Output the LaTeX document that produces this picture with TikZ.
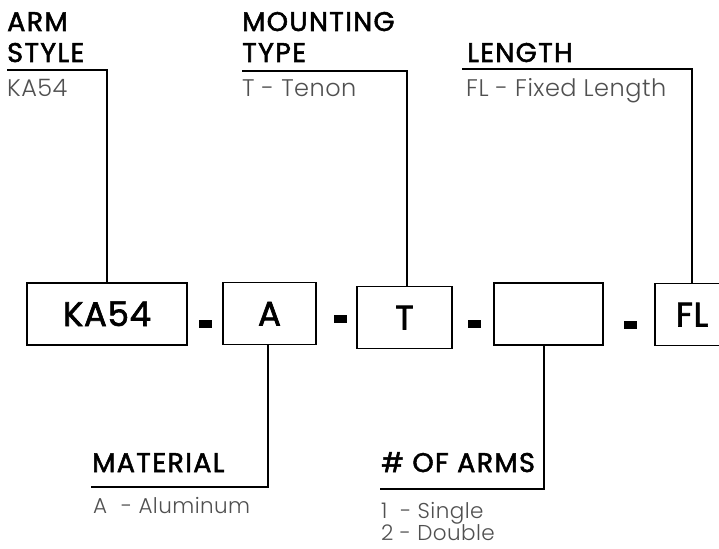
\documentclass[tikz,border=0pt]{standalone}
\usepackage{fontspec}
\setmainfont{Poppins}
\newfontfamily\headf{Poppins}[LetterSpace=5,FakeBold=2]
\newfontfamily\boxf{Poppins}[LetterSpace=2,FakeBold=2]
\IfFontExistsTF{Poppins Light}{\newfontfamily\valf{Poppins Light}[LetterSpace=2]}{\newfontfamily\valf{Poppins}[LetterSpace=2]}
\definecolor{txtgray}{HTML}{505050}
\begin{document}
\begin{tikzpicture}[x=1pt,y=-1pt,
  head/.style={anchor=base west,inner sep=0pt,font=\headf\fontsize{27}{27}\selectfont,text=black},
  val/.style={anchor=base west,inner sep=0pt,font=\valf\fontsize{24}{24}\selectfont,text=txtgray},
  valsm/.style={val,font=\valf\fontsize{21.5}{21.5}\selectfont},
  codebox/.style={draw=black,line width=1.8pt,inner sep=0pt,minimum height=62pt,text depth=0pt,text height=24pt,font=\boxf\fontsize{34}{34}\selectfont},
  sep/.style={fill=black,draw=none,inner sep=0pt,minimum width=13pt,minimum height=8pt},
  conn/.style={line width=1.6pt}]
\clip (0,0) rectangle (719,548);
\fill[white] (0,0) rectangle (719,548);
% code boxes
\node[codebox,minimum width=160pt] (ka) at (107,314) {KA54\hspace{18pt}};
\node[codebox,minimum width=93pt] (al) at (269.5,313.5) {A};
\node[codebox,minimum width=95pt] (tn) at (404.5,317.5) {T};
\node[codebox,minimum width=109pt] (na) at (548.5,314) {};
\node[codebox,minimum width=74pt] (fl) at (692,314.5) {FL\hspace{6pt}};
% separators
\node[sep] (s1) at (205.5,324) {};
\node[sep] (s2) at (340.5,318.5) {};
\node[sep] (s3) at (474,323.5) {};
\node[sep] (s4) at (630.5,325) {};
% headings and values
\node[head] (h1a) at (7,31) {ARM};
\node[head] (h1b) at (7,62) {STYLE};
\node[val] (v1) at (7,97) {KA54};
\node[head] (h2a) at (242,31) {MOUNTING};
\node[head] (h2b) at (242,62) {TYPE};
\node[val] (v2) at (242,97) {T - Tenon};
\node[head] (h3) at (467,62) {LENGTH};
\node[val] (v3) at (466,97) {FL - Fixed Length};
\node[head] (h4) at (92,472) {MATERIAL};
\node[valsm] (v4) at (93,513) {A\hspace{0.35em} - Aluminum};
\node[head] (h5) at (381,472) {\# OF ARMS};
\node[valsm] (v5a) at (381,518) {1\hspace{0.3em} - Single};
\node[valsm] (v5b) at (381,540) {2 - Double};
% connector corners
\coordinate (c1a) at (7,70);
\coordinate (c2a) at (242,71);
\coordinate (c3a) at (462,69);
\coordinate (c4a) at (91,487);
\coordinate (c5a) at (380,489);
% connectors
\draw[conn] (c1a) -| (ka.north);
\draw[conn] (c2a) -| ([xshift=2.5pt]tn.north);
\draw[conn] (c3a) -| (fl.north);
\draw[conn] (c4a) -| ([xshift=-1.5pt]al.south);
\draw[conn] (c5a) -| ([xshift=-4.5pt]na.south);
\end{tikzpicture}
\end{document}
